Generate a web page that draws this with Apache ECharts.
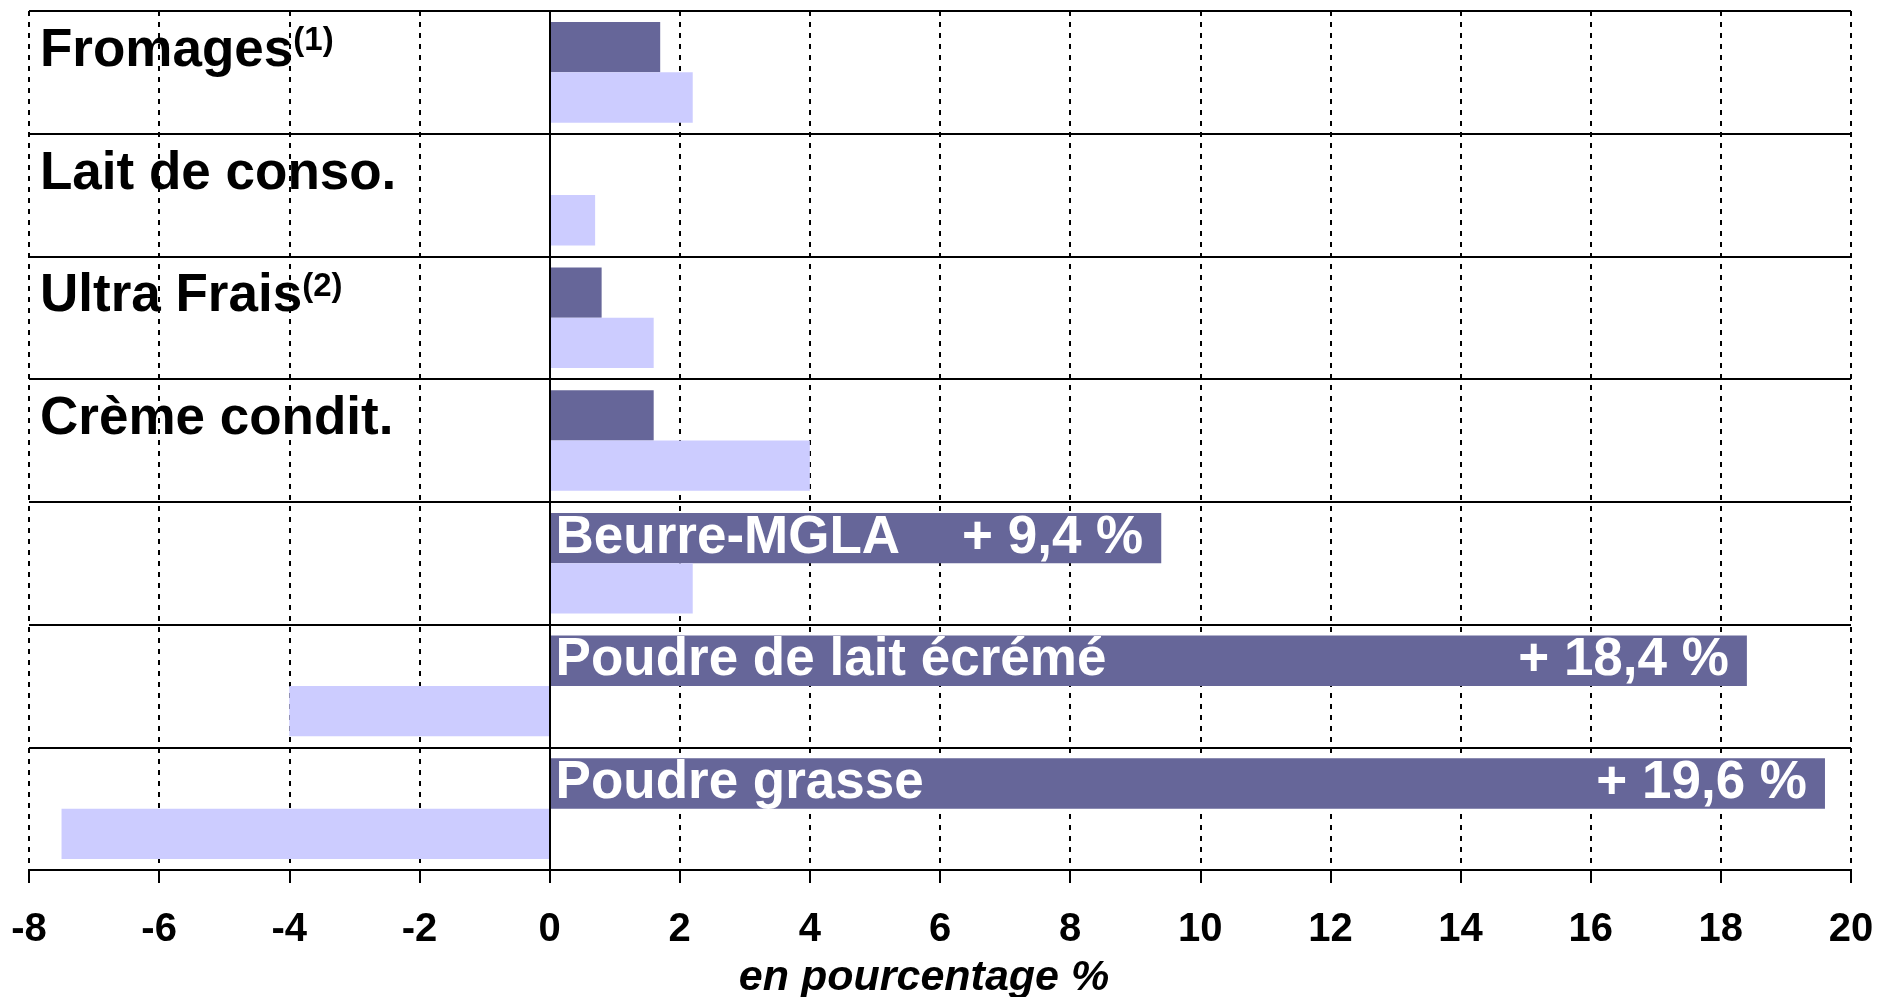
<!DOCTYPE html>
<html lang="fr">
<head>
    <meta charset="UTF-8">
    <title>Evolution des fabrications</title>
    <script src="https://cdn.jsdelivr.net/npm/echarts@6/dist/echarts.min.js"></script>
    <style>
        html, body {
            margin: 0;
            padding: 0;
            background: #fff;
        }

        #chart {
            width: 1877px;
            height: 997px;
        }
    </style>
</head>
<body>
<div id="chart"></div>
<script>
    // produits (de haut en bas)
    const categories = ['Fromages', 'Lait de conso.', 'Ultra Frais', 'Crème condit.',
        'Beurre-MGLA', 'Poudre de lait écrémé', 'Poudre grasse'];
    const notes = ['(1)', '', '(2)', '', '', '', ''];
    // 1 = le nom est écrit dans la barre foncée
    const labelInBar = [0, 0, 0, 0, 1, 1, 1];
    // valeurs en %
    const darkValues = [1.7, null, 0.8, 1.6, 9.4, 18.4, 19.6];
    const lightValues = [2.2, 0.7, 1.6, 4.0, 2.2, -4.0, -7.5];
    const xMin = -8, xMax = 20, xStep = 2;

    const font = '"Liberation Sans", Arial, sans-serif';
    const dark = '#666699';
    const light = '#CCCCFF';

    function tag(v) {
        return '+ ' + v.toFixed(1).replace('.', ',') + ' %';
    }

    const chart = echarts.init(document.getElementById('chart'));
    chart.setOption({
        animation: false,
        grid: {left: 29, right: 26, top: 11, bottom: 127, containLabel: false, outerBoundsMode: 'none'},
        xAxis: {
            type: 'value',
            min: xMin,
            max: xMax,
            interval: xStep,
            name: 'en pourcentage %',
            nameLocation: 'middle',
            nameGap: 87,
            nameTextStyle: {
                fontFamily: font, fontSize: 43, fontWeight: 'bold', fontStyle: 'italic',
                color: '#000', padding: [0, 32, 0, 0]
            },
            axisLine: {show: true, lineStyle: {color: '#000', width: 2}},
            axisTick: {show: true, length: 13, lineStyle: {color: '#000', width: 2}},
            axisLabel: {
                margin: 40, fontFamily: font, fontSize: 40, fontWeight: 'bold', color: '#000'
            },
            splitLine: {show: true, lineStyle: {color: '#000', width: 2, type: [5, 6]}}
        },
        yAxis: [{
            type: 'category',
            data: categories,
            inverse: true,
            axisLine: {show: false},
            axisTick: {show: false},
            splitLine: {show: true, lineStyle: {color: '#000', width: 2, type: 'solid'}},
            axisLabel: {
                inside: true,
                margin: 11,
                align: 'left',
                verticalAlign: 'middle',
                padding: [0, 0, 42, 0],
                formatter: function (v, i) {
                    if (labelInBar[i]) return '';
                    return '{n|' + v + '}' + (notes[i] ? '{s|' + notes[i] + '}' : '');
                },
                rich: {
                    n: {fontFamily: font, fontSize: 53, fontWeight: 'bold', color: '#000', lineHeight: 53},
                    s: {fontFamily: font, fontSize: 33, fontWeight: 'bold', color: '#000',
                        lineHeight: 42, verticalAlign: 'top'}
                }
            }
        }, {
            type: 'category',
            data: categories,
            inverse: true,
            show: false
        }],
        series: [{
            name: 'dark',
            type: 'bar',
            data: darkValues,
            barCategoryGap: '18%',
            barGap: '0%',
            itemStyle: {color: dark},
            label: {
                show: true,
                position: 'insideLeft',
                distance: 6,
                padding: [7, 0, 0, 0],
                fontFamily: font, fontSize: 53, fontWeight: 'bold', color: '#fff',
                formatter: p => labelInBar[p.dataIndex] ? categories[p.dataIndex] : ''
            }
        }, {
            name: 'light',
            type: 'bar',
            data: lightValues,
            barCategoryGap: '18%',
            barGap: '0%',
            itemStyle: {color: light},
            markLine: {
                silent: true,
                symbol: ['none', 'none'],
                label: {show: false},
                lineStyle: {color: '#000', width: 2, type: 'solid'},
                data: [{xAxis: 0}]
            }
        }, {
            // calque transparent pour les valeurs en bout de barre
            name: 'tags',
            type: 'bar',
            yAxisIndex: 1,
            data: darkValues.map((v, i) => labelInBar[i] ? v : null),
            barCategoryGap: '18%',
            barGap: '0%',
            itemStyle: {color: 'rgba(0,0,0,0)'},
            label: {
                show: true,
                position: 'insideRight',
                distance: 18,
                padding: [7, 0, 0, 0],
                fontFamily: font, fontSize: 53, fontWeight: 'bold', color: '#fff',
                formatter: p => tag(p.value)
            }
        }, {
            name: 'slot',
            type: 'bar',
            yAxisIndex: 1,
            data: categories.map(() => null),
            barCategoryGap: '18%',
            barGap: '0%'
        }]
    });
</script>
</body>
</html>
